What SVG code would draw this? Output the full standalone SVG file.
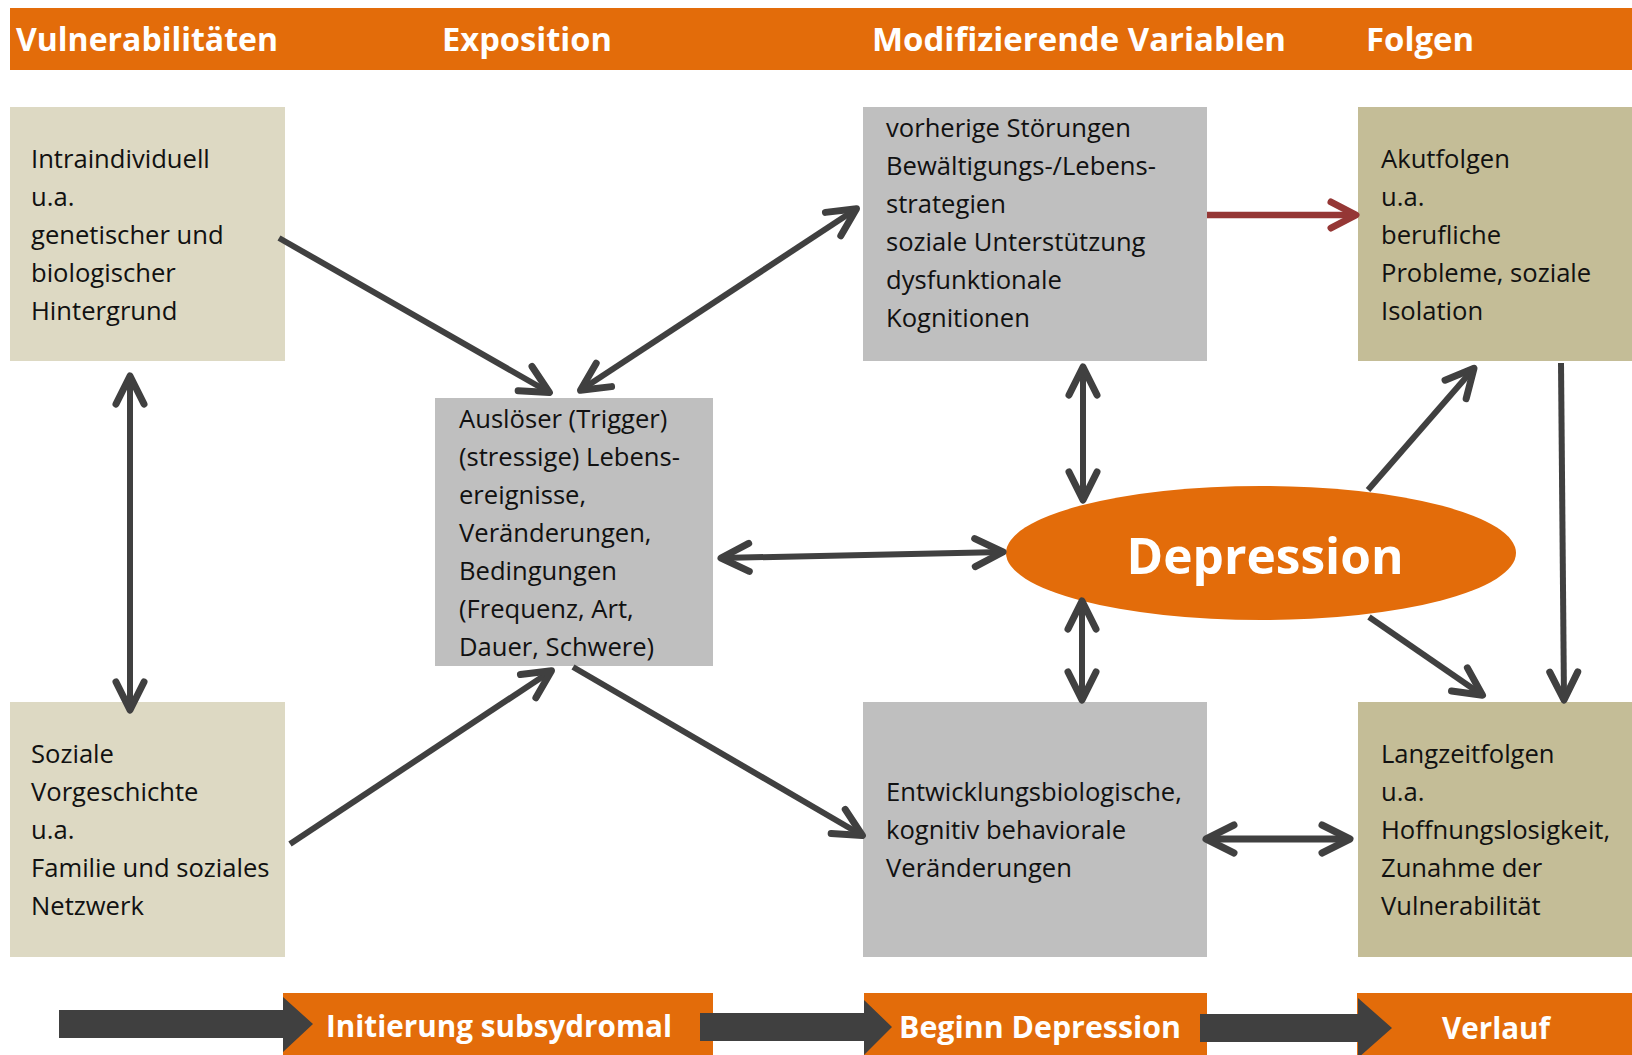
<svg xmlns="http://www.w3.org/2000/svg" width="1632" height="1055" viewBox="0 0 1632 1055">
  <style>
    .hdr { font-family: "Open Sans", "Liberation Sans", sans-serif; font-weight: bold; font-size: 31.5px; fill: #ffffff; }
    .lbl { font-family: "Open Sans", "Liberation Sans", sans-serif; font-weight: bold; font-size: 29.5px; fill: #ffffff; }
    .txt { font-family: "Open Sans", "Liberation Sans", sans-serif; font-size: 25.6px; fill: #111111; }
    .beige { fill: #DDD9C3; }
    .khaki { fill: #C4BD97; }
    .grey { fill: #BFBFBF; }
    .orange { fill: #E36C0A; }
    .con { stroke: #404040; stroke-width: 6; fill: none; marker-end: url(#ah); }
    .dbl { marker-start: url(#ah); }
    .red { stroke: #953735; stroke-width: 6.5; fill: none; marker-end: url(#ahr); }
    .blk { fill: #404040; }
  </style>
  <defs>
    <marker id="ah" markerUnits="userSpaceOnUse" markerWidth="60" markerHeight="60" refX="0" refY="0" viewBox="-35 -30 40 60" orient="auto-start-reverse" overflow="visible">
      <path d="M-28,-14 L0,0 L-28,14" fill="none" stroke="#404040" stroke-width="7" stroke-linecap="round" stroke-linejoin="round"/>
    </marker>
    <marker id="ahr" markerUnits="userSpaceOnUse" markerWidth="60" markerHeight="60" refX="0" refY="0" viewBox="-35 -30 40 60" orient="auto" overflow="visible">
      <path d="M-25,-13 L0,0 L-25,13" fill="none" stroke="#953735" stroke-width="7" stroke-linecap="round" stroke-linejoin="round"/>
    </marker>
  </defs>

  <rect width="1632" height="1055" fill="#ffffff"/>

  <g id="header">
    <rect class="orange" x="10" y="8" width="1622" height="62"/>
    <text class="hdr" x="16" y="51" textLength="262" lengthAdjust="spacingAndGlyphs">Vulnerabilitäten</text>
    <text class="hdr" x="442" y="51" textLength="170" lengthAdjust="spacingAndGlyphs">Exposition</text>
    <text class="hdr" x="872" y="51" textLength="414" lengthAdjust="spacingAndGlyphs">Modifizierende Variablen</text>
    <text class="hdr" x="1366" y="51" textLength="108" lengthAdjust="spacingAndGlyphs">Folgen</text>
  </g>

  <g id="node-intraindividuell">
    <rect class="beige" x="10" y="107" width="275" height="254"/>
    <text class="txt" x="31" y="168">Intraindividuell</text>
    <text class="txt" x="31" y="206">u.a.</text>
    <text class="txt" x="31" y="244">genetischer und</text>
    <text class="txt" x="31" y="282">biologischer</text>
    <text class="txt" x="31" y="320">Hintergrund</text>
  </g>

  <g id="node-soziale">
    <rect class="beige" x="10" y="702" width="275" height="255"/>
    <text class="txt" x="31" y="763">Soziale</text>
    <text class="txt" x="31" y="801">Vorgeschichte</text>
    <text class="txt" x="31" y="839">u.a.</text>
    <text class="txt" x="31" y="877">Familie und soziales</text>
    <text class="txt" x="31" y="915">Netzwerk</text>
  </g>

  <g id="node-ausloeser">
    <rect class="grey" x="435" y="398" width="278" height="268"/>
    <text class="txt" x="459" y="428">Auslöser (Trigger)</text>
    <text class="txt" x="459" y="466">(stressige) Lebens-</text>
    <text class="txt" x="459" y="504">ereignisse,</text>
    <text class="txt" x="459" y="542">Veränderungen,</text>
    <text class="txt" x="459" y="580">Bedingungen</text>
    <text class="txt" x="459" y="618">(Frequenz, Art,</text>
    <text class="txt" x="459" y="656">Dauer, Schwere)</text>
  </g>

  <g id="node-modifizierende">
    <rect class="grey" x="863" y="107" width="344" height="254"/>
    <text class="txt" x="886" y="137">vorherige Störungen</text>
    <text class="txt" x="886" y="175">Bewältigungs-/Lebens-</text>
    <text class="txt" x="886" y="213">strategien</text>
    <text class="txt" x="886" y="251">soziale Unterstützung</text>
    <text class="txt" x="886" y="289">dysfunktionale</text>
    <text class="txt" x="886" y="327">Kognitionen</text>
  </g>

  <g id="node-akutfolgen">
    <rect class="khaki" x="1358" y="107" width="274" height="254"/>
    <text class="txt" x="1381" y="168">Akutfolgen</text>
    <text class="txt" x="1381" y="206">u.a.</text>
    <text class="txt" x="1381" y="244">berufliche</text>
    <text class="txt" x="1381" y="282">Probleme, soziale</text>
    <text class="txt" x="1381" y="320">Isolation</text>
  </g>

  <g id="node-entwicklung">
    <rect class="grey" x="863" y="702" width="344" height="255"/>
    <text class="txt" x="886" y="801">Entwicklungsbiologische,</text>
    <text class="txt" x="886" y="839">kognitiv behaviorale</text>
    <text class="txt" x="886" y="877">Veränderungen</text>
  </g>

  <g id="node-langzeitfolgen">
    <rect class="khaki" x="1358" y="702" width="274" height="255"/>
    <text class="txt" x="1381" y="763">Langzeitfolgen</text>
    <text class="txt" x="1381" y="801">u.a.</text>
    <text class="txt" x="1381" y="839">Hoffnungslosigkeit,</text>
    <text class="txt" x="1381" y="877">Zunahme der</text>
    <text class="txt" x="1381" y="915">Vulnerabilität</text>
  </g>

  <g id="node-depression">
    <ellipse class="orange" cx="1261" cy="553" rx="255" ry="67"/>
    <text x="1265" y="574" text-anchor="middle" font-family="Open Sans, Liberation Sans, sans-serif" font-weight="bold" font-size="51" fill="#ffffff" textLength="277" lengthAdjust="spacingAndGlyphs">Depression</text>
  </g>

  <g id="connectors">
    <line class="con" x1="279" y1="238" x2="549.4" y2="392.5"/>
    <line class="con dbl" x1="580.5" y1="390.3" x2="856.5" y2="208.7"/>
    <line class="con dbl" x1="130" y1="376" x2="130" y2="710"/>
    <line class="con" x1="290" y1="844" x2="551.5" y2="670.7"/>
    <line class="con" x1="573" y1="667" x2="862.4" y2="835.5"/>
    <line class="con dbl" x1="721" y1="558" x2="1003" y2="552"/>
    <line class="con dbl" x1="1083" y1="367" x2="1083" y2="500"/>
    <line class="con dbl" x1="1082" y1="601" x2="1082" y2="700"/>
    <line class="red" x1="1207" y1="215" x2="1356" y2="215"/>
    <line class="con" x1="1368" y1="490" x2="1474" y2="368.3"/>
    <line class="con" x1="1561" y1="363" x2="1564" y2="700"/>
    <line class="con" x1="1369" y1="617" x2="1482.5" y2="695.3"/>
    <line class="con dbl" x1="1206" y1="839" x2="1350" y2="839" style="stroke-width:7"/>
  </g>

  <g id="timeline">
    <rect class="orange" x="283" y="993" width="430" height="62"/>
    <rect class="orange" x="864" y="993" width="343" height="62"/>
    <rect class="orange" x="1357" y="993" width="275" height="62"/>
    <polygon class="blk" points="59,1010 283,1010 283,997 313,1024 283,1052 283,1038 59,1038"/>
    <polygon class="blk" points="700,1013 864,1013 864,1000 892,1027 864,1055 864,1041 700,1041"/>
    <polygon class="blk" points="1200,1014 1358,1014 1358,998 1392,1028 1358,1058 1358,1042 1200,1042"/>
    <text class="lbl" x="326" y="1037" textLength="346" lengthAdjust="spacingAndGlyphs">Initierung subsydromal</text>
    <text class="lbl" x="899" y="1038" textLength="282" lengthAdjust="spacingAndGlyphs">Beginn Depression</text>
    <text class="lbl" x="1442" y="1039" textLength="108" lengthAdjust="spacingAndGlyphs">Verlauf</text>
  </g>
</svg>
